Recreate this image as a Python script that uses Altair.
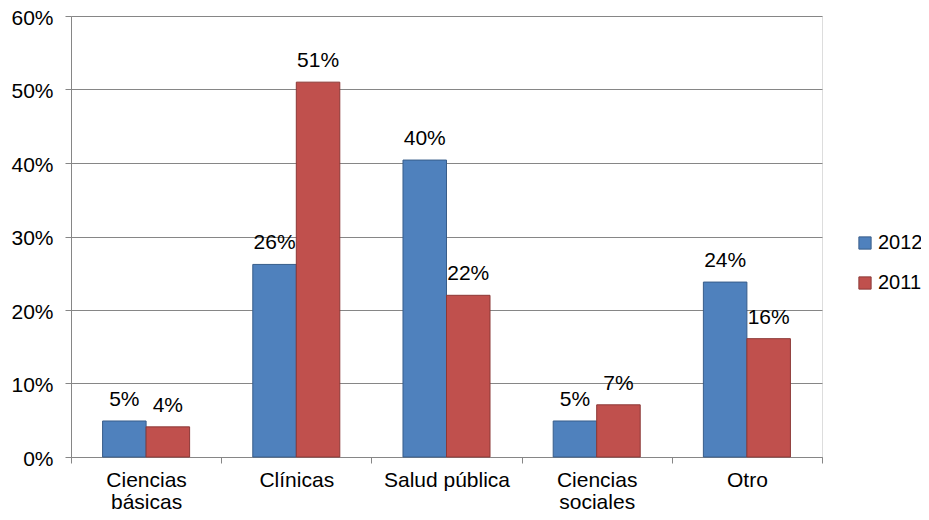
import altair as alt
import pandas as pd

categories = ["Ciencias básicas", "Clínicas", "Salud pública", "Ciencias sociales", "Otro"]
years = ["2012", "2011"]
values_2012 = [0.049, 0.262, 0.404, 0.049, 0.238]
values_2011 = [0.041, 0.510, 0.220, 0.071, 0.161]
fill_colors = ["#4f81bd", "#c0504d"]
stroke_colors = ["#385d8a", "#8c3836"]

rows = []
for c, v in zip(categories, values_2012):
    rows.append({"cat": c, "year": "2012", "value": v})
for c, v in zip(categories, values_2011):
    rows.append({"cat": c, "year": "2011", "value": v})
df = pd.DataFrame(rows)

FONT = "Liberation Sans"
FS = 21

x_enc = alt.X(
    "cat:N",
    sort=categories,
    scale=alt.Scale(paddingInner=0, paddingOuter=0),
    axis=alt.Axis(
        title=None,
        labelAngle=0,
        tickBand="extent",
        tickSize=6,
        labelPadding=6,
        labelBaseline="top",
        labelLineHeight=22,
        labelFont=FONT,
        labelFontSize=FS,
        labelColor="#000000",
        domainColor="#868686",
        tickColor="#868686",
        grid=False,
        labelExpr="datum.label == 'Ciencias básicas' ? ['Ciencias', 'básicas'] : datum.label == 'Ciencias sociales' ? ['Ciencias', 'sociales'] : datum.label",
    ),
)
xo_enc = alt.XOffset("year:N", sort=years, scale=alt.Scale(paddingInner=0, paddingOuter=0.726))
y_enc = alt.Y(
    "value:Q",
    scale=alt.Scale(domain=[0, 0.6], nice=False),
    axis=alt.Axis(
        title=None,
        format=".0%",
        values=[0, 0.1, 0.2, 0.3, 0.4, 0.5, 0.6],
        tickSize=6,
        labelPadding=12,
        labelOffset=2,
        labelFont=FONT,
        labelFontSize=FS,
        labelColor="#000000",
        domainColor="#868686",
        tickColor="#868686",
        gridColor="#868686",
        gridWidth=1,
    ),
)

legend_opts = dict(
    title=None,
    orient="none",
    legendX=784,
    legendY=217,
    symbolType="square",
    symbolSize=150,
    symbolStrokeWidth=1,
    labelFont=FONT,
    labelFontSize=20,
    labelColor="#000000",
    labelOffset=3,
    labelLimit=300,
    rowPadding=20,
    padding=0,
)

bars = alt.Chart(df).mark_bar(strokeWidth=1).encode(
    x=x_enc,
    xOffset=xo_enc,
    y=y_enc,
    color=alt.Color(
        "year:N",
        sort=years,
        scale=alt.Scale(domain=years, range=fill_colors),
        legend=alt.Legend(**legend_opts),
    ),
    stroke=alt.Stroke(
        "year:N",
        sort=years,
        scale=alt.Scale(domain=years, range=stroke_colors),
        legend=alt.Legend(**legend_opts),
    ),
)

labels = alt.Chart(df).mark_text(
    baseline="alphabetic", align="center", dy=-15, font=FONT, fontSize=FS, color="#000000"
).encode(
    x=alt.X("cat:N", sort=categories),
    xOffset=alt.XOffset("year:N", sort=years),
    y=alt.Y("value:Q"),
    text=alt.Text("value:Q", format=".0%"),
)

chart = (
    alt.layer(bars, labels)
    .properties(
        width=751,
        height=441,
        padding={"left": 63, "top": 8, "right": 99, "bottom": 55},
        autosize=alt.AutoSizeParams(type="none"),
    )
    .configure_view(stroke=None, fill="#e7e7e7")
    .configure(background="#ffffff")
)

chart.save("out.html", embed_options={"renderer": "svg", "actions": False})
